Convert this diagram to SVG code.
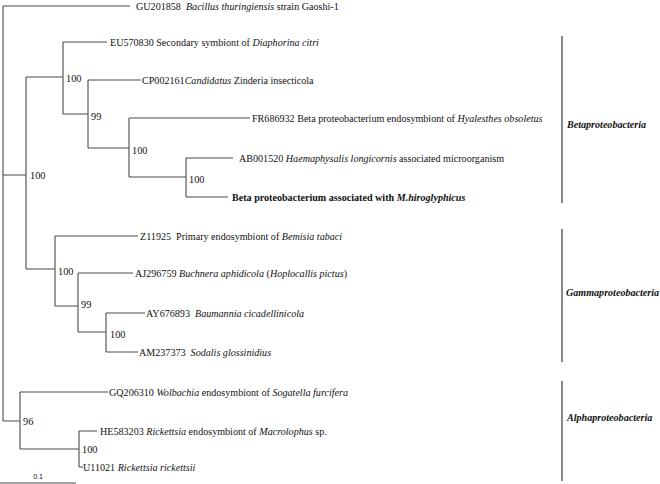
<svg xmlns="http://www.w3.org/2000/svg" width="660" height="484" viewBox="0 0 660 484">
<style>
.br{stroke:#4a4a4a;stroke-width:1.1;fill:none}
.bk{stroke:#555;stroke-width:1.4;fill:none}
text{font-family:"Liberation Serif","Times New Roman",serif;font-size:10.1px;fill:#111}
.bs{font-size:10.3px}
.i{font-style:italic}
.b{font-weight:bold}
.grp{font-weight:bold;font-style:italic;font-size:10.1px}
.sc{font-family:"Liberation Sans",Arial,sans-serif;font-size:7px}
</style>
<rect width="660" height="484" fill="#fff"/>
<g id="connectors">
<path class="br" d="M3,6V421 M3,6H130 M3,175H26 M3,421H20"/>
<path class="br" d="M26,77V269 M26,77H63 M26,269H55"/>
<path class="br" d="M63,42V114 M63,42H107 M63,114H88"/>
<path class="br" d="M88,80V148 M88,80H141 M88,148H129"/>
<path class="br" d="M129,118V177 M129,118H250 M129,177H186"/>
<path class="br" d="M186,158V197 M186,158H233 M186,197H228"/>
<path class="br" d="M55,236V306 M55,236H138 M55,306H78"/>
<path class="br" d="M78,273V332 M78,273H133 M78,332H106"/>
<path class="br" d="M106,313V352 M106,313H145 M106,352H138"/>
<path class="br" d="M20,392V449 M20,392H108 M20,449H79"/>
<path class="br" d="M79,431V467 M79,431H97 M79,467H83"/>
</g>
<g id="bootstrap">
<text class="bs" x="30" y="178.5">100</text>
<text class="bs" x="66" y="82">100</text>
<text class="bs" x="91" y="120">99</text>
<text class="bs" x="132" y="154">100</text>
<text class="bs" x="189" y="183">100</text>
<text class="bs" x="58" y="275">100</text>
<text class="bs" x="81" y="308">99</text>
<text class="bs" x="110" y="338">100</text>
<text class="bs" x="23" y="425">96</text>
<text class="bs" x="82" y="453">100</text>
</g>
<g id="GU201858"><text x="136" y="9.5" xml:space="preserve">GU201858  <tspan class="i">Bacillus thuringiensis</tspan> strain Gaoshi-1</text></g>
<g id="EU570830"><text x="110" y="45.5">EU570830 Secondary symbiont of <tspan class="i">Diaphorina citri</tspan></text></g>
<g id="CP002161"><text x="142" y="83.5">CP002161<tspan class="i">Candidatus</tspan> Zinderia insecticola</text></g>
<g id="FR686932"><text x="252" y="121.5">FR686932 Beta proteobacterium endosymbiont of <tspan class="i">Hyalesthes obsoletus</tspan></text></g>
<g id="AB001520"><text x="239" y="161.5">AB001520 <tspan class="i">Haemaphysalis longicornis</tspan> associated microorganism</text></g>
<g id="Mhiroglyphicus"><text class="b" x="232" y="200.5">Beta proteobacterium associated with <tspan class="i">M.hiroglyphicus</tspan></text></g>
<g id="Z11925"><text x="140" y="239.5" xml:space="preserve">Z11925  Primary endosymbiont of <tspan class="i">Bemisia tabaci</tspan></text></g>
<g id="AJ296759"><text x="135" y="276.5">AJ296759 <tspan class="i">Buchnera aphidicola</tspan> (<tspan class="i">Hoplocallis pictus</tspan>)</text></g>
<g id="AY676893"><text x="146" y="316.5" xml:space="preserve">AY676893  <tspan class="i">Baumannia cicadellinicola</tspan></text></g>
<g id="AM237373"><text x="139" y="355.5" xml:space="preserve">AM237373  <tspan class="i">Sodalis glossinidius</tspan></text></g>
<g id="GQ206310"><text x="109" y="395.5">GQ206310 <tspan class="i">Wolbachia</tspan> endosymbiont of <tspan class="i">Sogatella furcifera</tspan></text></g>
<g id="HE583203"><text x="100" y="434.5">HE583203 <tspan class="i">Rickettsia</tspan> endosymbiont of <tspan class="i">Macrolophus</tspan> sp.</text></g>
<g id="U11021"><text x="83" y="470.5">U11021 <tspan class="i">Rickettsia rickettsii</tspan></text></g>
<g id="Betaproteobacteria"><path class="bk" d="M562,36V203"/><text class="grp" x="567" y="127.5">Betaproteobacteria</text></g>
<g id="Gammaproteobacteria"><path class="bk" d="M562,229V362"/><text class="grp" x="566" y="295.5">Gammaproteobacteria</text></g>
<g id="Alphaproteobacteria"><path class="bk" d="M562,381V481"/><text class="grp" x="567" y="420.5">Alphaproteobacteria</text></g>
<g id="scale"><path class="br" d="M0,483H76"/><text class="sc" x="38" y="479" text-anchor="middle">0.1</text></g>
</svg>
